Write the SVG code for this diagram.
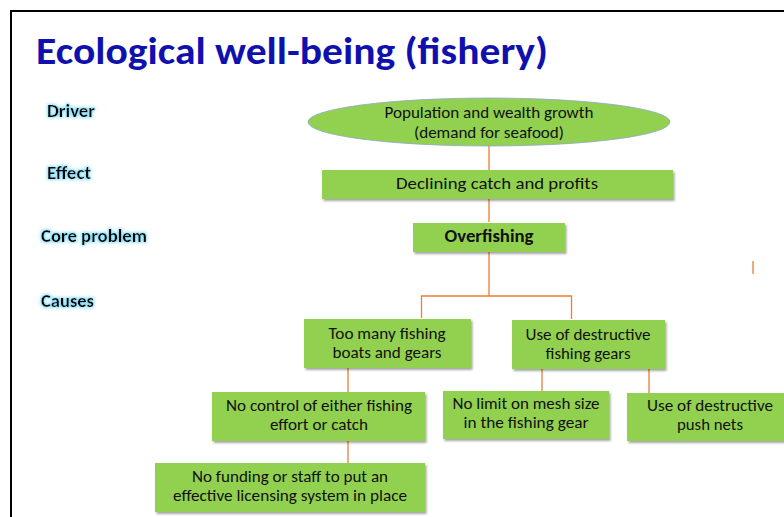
<svg xmlns="http://www.w3.org/2000/svg" width="784" height="517" viewBox="0 0 784 517">
<style>
.title{font-family:Carlito,"Liberation Sans",sans-serif;font-weight:bold;font-size:39px;fill:#1010ae}
.lbl{font-family:Carlito,"Liberation Sans",sans-serif;font-weight:bold;font-size:17px;fill:#000}
.t{font-family:Carlito,"Liberation Sans",sans-serif;font-size:16px;fill:#111;text-anchor:middle}
.b{font-weight:bold;font-size:17px}
.box{fill:#92d050}
.con{fill:none;stroke:#ed7d31;stroke-width:1.3}
</style>
<defs>
<filter id="glow" x="-20%" y="-50%" width="140%" height="200%">
<feMorphology in="SourceAlpha" operator="dilate" radius="1.2" result="d"/>
<feGaussianBlur in="d" stdDeviation="1.8" result="bl"/>
<feFlood flood-color="#8fe0f6"/>
<feComposite in2="bl" operator="in" result="g"/>
<feMerge><feMergeNode in="g"/><feMergeNode in="SourceGraphic"/></feMerge>
</filter>
<filter id="sh" x="-10%" y="-20%" width="120%" height="150%">
<feDropShadow dx="1.5" dy="2" stdDeviation="1.2" flood-color="#000" flood-opacity="0.35"/>
</filter>
</defs>
<rect width="784" height="517" fill="#fff"/>
<rect x="11" y="11" width="800" height="600" fill="none" stroke="#000" stroke-width="2"/>
<text class="title" x="36" y="64" textLength="512" lengthAdjust="spacingAndGlyphs">Ecological well-being (fishery)</text>
<g id="labels" filter="url(#glow)">
<text class="lbl" x="47" y="117" textLength="48" lengthAdjust="spacingAndGlyphs">Driver</text>
<text class="lbl" x="47" y="179" textLength="44" lengthAdjust="spacingAndGlyphs">Effect</text>
<text class="lbl" x="41" y="242" textLength="106" lengthAdjust="spacingAndGlyphs">Core problem</text>
<text class="lbl" x="41" y="307" textLength="53" lengthAdjust="spacingAndGlyphs">Causes</text>
</g>
<g id="connectors">
<path class="con" d="M489 146V170M489 199V222M489 252V296M421.5 318V296H571.5V319M348 368V392M348 441V463M542 369V391M649 369V393M753 261V274"/>
</g>
<g id="driver">
<ellipse cx="489" cy="122" rx="181" ry="24" fill="#92d050" stroke="#8fa6cc" stroke-width="0.8"/>
<text class="t" x="489" y="118" textLength="209" lengthAdjust="spacingAndGlyphs">Population and wealth growth</text>
<text class="t" x="489" y="138" textLength="150" lengthAdjust="spacingAndGlyphs">(demand for seafood)</text>
</g>
<g id="effect">
<rect class="box" x="322" y="170" width="351" height="29" filter="url(#sh)"/>
<text class="t" x="497" y="189" textLength="202" lengthAdjust="spacingAndGlyphs" style="font-size:17px">Declining catch and profits</text>
</g>
<g id="core">
<rect class="box" x="413" y="223" width="152" height="29" filter="url(#sh)"/>
<text class="t b" x="489" y="242" textLength="89" lengthAdjust="spacingAndGlyphs">Overfishing</text>
</g>
<g id="cause1">
<rect class="box" x="304" y="319" width="167" height="49" filter="url(#sh)"/>
<text class="t" x="387" y="339" textLength="117" lengthAdjust="spacingAndGlyphs">Too many fishing</text>
<text class="t" x="387" y="358" textLength="109" lengthAdjust="spacingAndGlyphs">boats and gears</text>
</g>
<g id="cause2">
<rect class="box" x="512" y="320" width="153" height="49" filter="url(#sh)"/>
<text class="t" x="588" y="340" textLength="125" lengthAdjust="spacingAndGlyphs">Use of destructive</text>
<text class="t" x="588" y="359" textLength="85" lengthAdjust="spacingAndGlyphs">fishing gears</text>
</g>
<g id="cause1a">
<rect class="box" x="212" y="392" width="213" height="49" filter="url(#sh)"/>
<text class="t" x="319" y="411" textLength="186" lengthAdjust="spacingAndGlyphs">No control of either fishing</text>
<text class="t" x="319" y="430" textLength="98" lengthAdjust="spacingAndGlyphs">effort or catch</text>
</g>
<g id="cause1b">
<rect class="box" x="155" y="463" width="270" height="49" filter="url(#sh)"/>
<text class="t" x="290" y="482" textLength="196" lengthAdjust="spacingAndGlyphs">No funding or staff to put an</text>
<text class="t" x="290" y="501" textLength="234" lengthAdjust="spacingAndGlyphs">effective licensing system in place</text>
</g>
<g id="cause2a">
<rect class="box" x="443" y="391" width="166" height="48" filter="url(#sh)"/>
<text class="t" x="526" y="409" textLength="147" lengthAdjust="spacingAndGlyphs">No limit on mesh size</text>
<text class="t" x="526" y="428" textLength="125" lengthAdjust="spacingAndGlyphs">in the fishing gear</text>
</g>
<g id="cause2b">
<rect class="box" x="627" y="393" width="170" height="48" filter="url(#sh)"/>
<text class="t" x="710" y="411" textLength="126" lengthAdjust="spacingAndGlyphs">Use of destructive</text>
<text class="t" x="710" y="430" textLength="66" lengthAdjust="spacingAndGlyphs">push nets</text>
</g>
</svg>
